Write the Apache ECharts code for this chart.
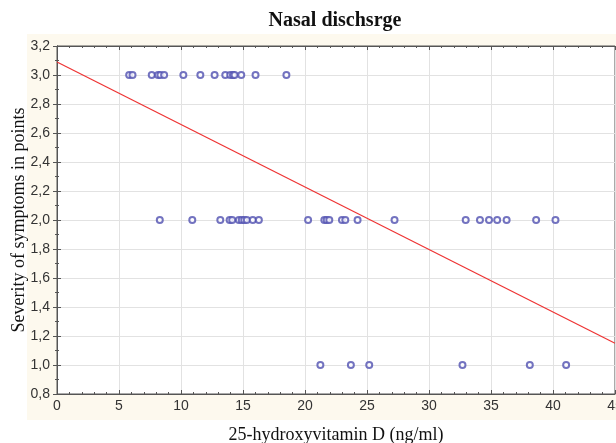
<!DOCTYPE html>
<html>
<head>
<meta charset="utf-8">
<script src="https://cdn.jsdelivr.net/npm/echarts@6/dist/echarts.min.js"></script>
<style>
  html, body { margin: 0; padding: 0; background: #fff; }
  #scatterChart { width: 616px; height: 443px; }
</style>
</head>
<body>
<div id="scatterChart"></div>
<script>
// vitamin D values (ng/ml) for each symptom score
let scoreThreeX = [5.82, 6.09, 7.64, 8.15, 8.34, 8.64, 10.19, 11.56, 12.71, 13.57, 13.97, 14.19, 14.32, 14.86, 16.01, 18.5]
let scoreTwoX = [8.29, 10.91, 13.17, 13.92, 14.13, 14.67, 14.9, 15.1, 15.31, 15.79, 16.28, 20.25, 21.56, 21.75, 21.96, 22.98, 23.25, 24.24, 27.22, 32.96, 34.11, 34.84, 35.5, 36.26, 38.64, 40.2]
let scoreOneX = [21.24, 23.7, 25.18, 32.7, 38.13, 41.06]
let scores = [3, 2, 1]
// regression line ends
let fitX = [0, 45]
let fitY = [3.09, 1.15]

let points = []
;[scoreThreeX, scoreTwoX, scoreOneX].forEach((xs, i) => {
  xs.forEach(x => points.push([x, scores[i]]))
})
let fitLine = fitX.map((x, i) => [x, fitY[i]])

let labelFont = { color: '#333', fontSize: 14, fontFamily: 'Liberation Sans, Arial, sans-serif' }
let nameFont = { color: '#111', fontSize: 18, fontFamily: 'Liberation Serif, Times New Roman, serif' }
let frame = { color: '#555', width: 1 }

let option = {
  animation: false,
  backgroundColor: '#fff',
  graphic: [{
    type: 'rect',
    z: -10,
    shape: { x: 27, y: 34, width: 589, height: 386 },
    style: { fill: '#fdf9ee' },
  }],
  title: {
    text: 'Nasal dischsrge',
    left: 330,
    top: 6,
    textAlign: 'center',
    textStyle: { color: '#111', fontSize: 20, fontWeight: 'bold', fontFamily: 'Liberation Serif, Times New Roman, serif' },
  },
  grid: {
    left: 57,
    right: 1,
    top: 46,
    bottom: 49,
    outerBoundsMode: 'none',
    show: true,
    backgroundColor: '#fff',
    borderColor: '#555',
    borderWidth: 1,
  },
  xAxis: [{
    type: 'value',
    min: 0,
    max: 45,
    interval: 5,
    name: '25-hydroxyvitamin D (ng/ml)',
    nameLocation: 'middle',
    nameGap: 32,
    nameMoveOverlap: false,
    nameTextStyle: nameFont,
    axisLine: { show: true, onZero: false, lineStyle: frame },
    axisTick: { inside: true, length: 4, lineStyle: frame },
    minorTick: { show: true, splitNumber: 5, length: 2, lineStyle: frame },
    axisLabel: Object.assign({ margin: 5, showMaxLabel: true }, labelFont),
    splitLine: { show: true, lineStyle: { color: '#e2e2e2' } },
  }, {
    type: 'value',
    position: 'top',
    min: 0,
    max: 45,
    interval: 5,
    axisLine: { show: true, lineStyle: frame },
    axisTick: { inside: true, length: 4, lineStyle: frame },
    minorTick: { show: true, splitNumber: 5, length: 2, lineStyle: frame },
    axisLabel: { show: false },
    splitLine: { show: false },
  }],
  yAxis: [{
    type: 'value',
    min: 0.8,
    max: 3.2,
    interval: 0.2,
    name: 'Severity of symptoms in points',
    nameLocation: 'middle',
    nameGap: 29,
    nameMoveOverlap: false,
    nameTextStyle: nameFont,
    axisLine: { show: true, onZero: false, lineStyle: frame },
    axisTick: { inside: true, length: 4, lineStyle: frame },
    minorTick: { show: true, splitNumber: 2, length: 2, lineStyle: frame },
    axisLabel: Object.assign({
      margin: 7,
      formatter: v => v.toFixed(1).replace('.', ','),
    }, labelFont),
    splitLine: { show: true, lineStyle: { color: '#e2e2e2' } },
  }, {
    type: 'value',
    position: 'right',
    min: 0.8,
    max: 3.2,
    interval: 0.2,
    axisLine: { show: true, lineStyle: frame },
    axisTick: { inside: true, length: 4, lineStyle: frame },
    minorTick: { show: true, splitNumber: 2, length: 2, lineStyle: frame },
    axisLabel: { show: false },
    splitLine: { show: false },
  }],
  series: [{
    type: 'line',
    data: fitLine,
    showSymbol: false,
    lineStyle: { color: '#ee3333', width: 1.2 },
    z: 3,
  }, {
    type: 'scatter',
    data: points,
    symbol: 'emptyCircle',
    symbolSize: 6,
    itemStyle: { color: '#5050b0', borderWidth: 1 },
    z: 4,
  }],
}

let myChart = echarts.init(document.getElementById('scatterChart'))
myChart.setOption(option)
</script>
</body>
</html>
